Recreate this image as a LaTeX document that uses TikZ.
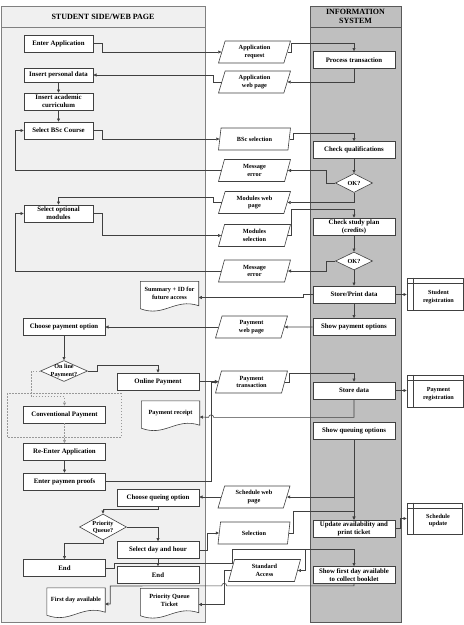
\documentclass[tikz,border=0pt]{standalone}
\usepackage{fontspec}
\setmainfont{Liberation Serif}
\usetikzlibrary{positioning, arrows.meta, shapes.geometric, calc, backgrounds}

\begin{document}
\begin{tikzpicture}[x=1pt, y=-1pt]
	\tikzset{
		lane/.style={line width=0.6pt},
		proc/.style={rectangle, draw=black!75, fill=white, line width=0.6pt, minimum width=69, minimum height=17, inner sep=1pt, align=center, font=\bfseries\fontsize{6.8}{8}\selectfont},
		wproc/.style={proc, minimum width=82},
		io/.style={trapezium, trapezium left angle=65, trapezium right angle=115, trapezium stretches body, draw=black!75, fill=white, line width=0.6pt, minimum width=72, minimum height=22, inner sep=0.5pt, align=center, font=\bfseries\fontsize{6.3}{7.5}\selectfont},
		decide/.style={diamond, draw=black!75, fill=white, line width=0.6pt, inner sep=0pt},
		dtext/.style={align=center, font=\bfseries\fontsize{6.2}{7.3}\selectfont},
		doc/.style={rectangle, minimum width=58, minimum height=24, inner sep=1pt, align=center, font=\bfseries\fontsize{6.3}{7.5}\selectfont},
		store/.style={rectangle, draw=black!75, fill=white, line width=0.6pt, minimum width=56, minimum height=32, inner sep=0pt},
		wire/.style={draw=black!75, line width=0.6pt},
		conn/.style={wire, -{Triangle[length=3.2pt, width=3pt]}},
		alt/.style={conn, draw=black!40, dash pattern=on 1.5pt off 1.5pt},
		head/.style={align=center, font=\bfseries\fontsize{8}{9.3}\selectfont}
	}
	\useasboundingbox (0,0) rectangle (464,625);
	\begin{scope}[on background layer]
		\draw[lane, draw=black!50, fill=black!6] (1,6) rectangle (205,622);
		\draw[lane, draw=black!50] (1,27) -- (205,27);
		\draw[lane, draw=black!65, fill=black!25] (310,6) rectangle (401,622);
		\draw[lane, draw=black!65] (310,27) -- (401,27);
		\draw[black!40, line width=0.5pt, dash pattern=on 1.5pt off 1.5pt] (7,393) rectangle (121,437);
	\end{scope}
	\node[head] (shead) at (103,16.5) {STUDENT SIDE/WEB PAGE};
	\node[head] (ihead) at (355.5,16.5) {INFORMATION\\SYSTEM};

	\node[proc] (ea) at (58.5,43.5) {Enter Application};
	\node[proc, minimum height=14] (ipd) at (58.5,75) {Insert personal data};
	\node[proc] (iac) at (58.5,101.5) {Insert academic\\curriculum};
	\node[proc] (sbc) at (58.5,130.5) {Select BSc Course};
	\node[proc] (som) at (58.5,213.5) {Select optional\\modules};
	\node[wproc] (cpo) at (64,326.5) {Choose payment option};
	\node[wproc] (conv) at (64.5,414.5) {Conventional Payment};
	\node[wproc] (rea) at (64.5,452) {Re-Enter Application};
	\node[wproc] (epp) at (64.5,481.5) {Enter paymen proofs};
	\node[wproc] (endl) at (64.5,568) {End};
	\node[wproc] (olp) at (158,381.5) {Online Payment};
	\node[wproc] (cqo) at (158,497.5) {Choose queing option};
	\node[wproc] (sdh) at (158,550) {Select day and hour};
	\node[wproc] (endr) at (158,575) {End};

	\node[wproc] (pt) at (354,60) {Process transaction};
	\node[wproc] (cq) at (354,150) {Check qualifications};
	\node[wproc] (csp) at (354,226.5) {Check study plan\\(credits)};
	\node[wproc] (spd) at (354,294.5) {Store/Print data};
	\node[wproc] (spo) at (354,327) {Show payment options};
	\node[wproc] (sd) at (354,390.5) {Store data};
	\node[wproc] (sqo) at (354,431) {Show queuing options};
	\node[wproc] (uat) at (354,528.5) {Update availability and\\print ticket};
	\node[wproc] (sfd) at (354,575) {Show first day available\\to collect booklet};

	\node[decide, minimum width=37, minimum height=19, label={[name=ok1t, dtext]center:OK?}] (ok1) at (354,183) {};
	\node[decide, minimum width=37, minimum height=18, label={[name=ok2t, dtext]center:OK?}] (ok2) at (354,261) {};
	\node[decide, minimum width=47, minimum height=21, label={[name=olqt, dtext]center:On line\\Payment?}] (olq) at (64,371) {};
	\node[decide, minimum width=47, minimum height=26, label={[name=pqt_t, dtext]center:Priority\\Queue?}] (pq) at (103,527) {};

	\node[io] (areq) at (254.5,52) {Application\\request};
	\node[io] (aweb) at (254.5,82) {Application\\web page};
	\node[io] (bsel) at (254.5,139) {BSc selection};
	\node[io] (merr1) at (254.5,170.5) {Message\\error};
	\node[io] (mweb) at (254.5,202.5) {Modules web\\page};
	\node[io] (msel) at (254.5,235.5) {Modules\\selection};
	\node[io] (merr2) at (254.5,271) {Message\\error};
	\node[io] (pweb) at (251.5,327) {Payment\\web page};
	\node[io] (ptr) at (251.5,382) {Payment\\transaction};
	\node[io] (sweb) at (254,497) {Schedule web\\page};
	\node[io] (sel) at (254,533) {Selection};
	\node[io] (sacc) at (264.5,570.5) {Standard\\Access};

	\node[doc] (sum) at (169.5,293.5) {Summary + ID for\\future access};
	\node[doc] (prc) at (170.5,413) {Payment receipt};
	\node[doc] (fda) at (76,600) {First day available};
	\node[doc] (pqt) at (169.5,600.5) {Priority Queue\\Ticket};
	\begin{scope}[on background layer]
		\foreach \d in {sum,prc,fda,pqt}
			\draw[wire, fill=white] ($(\d.south west)+(0,3)$) -- (\d.north west) -- (\d.north east) -- (\d.south east) .. controls +(-24,-8) and +(24,9) .. ($(\d.south west)+(0,3)$) -- cycle;
	\end{scope}

	\node[store, label={[name=stut, dtext, xshift=3.5pt, yshift=-3pt]center:Student\\registration}] (stu) at (435,294) {};
	\node[store, label={[name=payt, dtext, xshift=3.5pt, yshift=-3pt]center:Payment\\registration}] (pay) at (435,391) {};
	\node[store, minimum width=55, minimum height=31, label={[name=scht, dtext, xshift=3.5pt, yshift=-2pt]center:Schedule\\update}] (sch) at (434.5,518.5) {};
	\foreach \s in {stu,pay,sch} {
		\draw[wire] ($(\s.north west)+(0,6)$) -- ($(\s.north east)+(0,6)$);
		\draw[wire] ($(\s.north west)+(7,0)$) -- ($(\s.south west)+(7,0)$);
	}

	\coordinate (lx) at (15,0);
	\draw[conn] (ea.east) -- ++(9,0) |- (areq.west);
	\draw[conn] (areq.east) -- ++(4,0) |- ($(pt.north)+(0,-8)$) -- (pt.north);
	\draw[conn] (pt.south) |- (aweb.east);
	\draw[conn] (aweb.west) -- ++(-8,0) |- (ipd.east);
	\draw[conn] (ipd.south) -- (iac.north);
	\draw[conn] (iac.south) -- (sbc.north);
	\draw[conn] (sbc.east) -- ++(9,0) |- (bsel.west);
	\draw[conn] (bsel.east) -- ++(4,0) |- ($(cq.north)+(0,-8)$) -- (cq.north);
	\draw[conn] (cq.south) -- (ok1.north);
	\draw[conn] (ok1.west) -- ++(-9,0) |- (merr1.east);
	\draw[conn] (merr1.west) -- (merr1.west -| lx) |- (sbc.west);
	\draw[conn] (ok1.south) |- (mweb.east);
	\draw[conn] (mweb.west) -- ++(-8,0) |- ($(som.north)+(0,-7)$) -- (som.north);
	\draw[conn] (som.east) -- ++(9,0) |- (msel.west);
	\draw[conn] (msel.east) -- ++(4,0) |- ($(csp.north)+(0,-8)$) -- (csp.north);
	\draw[conn] (csp.south) -- (ok2.north);
	\draw[conn] (ok2.west) -- ++(-9,0) |- (merr2.east);
	\draw[conn] (merr2.west) -- (merr2.west -| lx) |- (som.west);
	\draw[conn] (ok2.south) -- (spd.north);
	\draw[conn] (spd.west) -- ++(-9,0) |- ($(sum.east)+(0,4)$);
	\draw[conn] (spd.east) -- (spd.east -| stu.west);
	\draw[conn] (spd.south) -- (spo.north);
	\draw[conn] (spo.west) -- (pweb.east);
	\draw[conn] (pweb.west) -- (pweb.west -| cpo.east);
	\draw[conn] (cpo.south) -- (olq.north);
	\draw[conn] (olq.east) -- ++(9,0) |- ($(olp.north)+(0,-7)$) -- (olp.north);
	\draw[alt] (olq.west) -- ++(-9,0) |- ($(conv.north)+(0,-9)$) -- (conv.north);
	\draw[alt] (conv.south) -- (rea.north);
	\draw[conn] (rea.south) -- (epp.north);
	\draw[conn] (olp.east) -- (olp.east -| ptr.west);
	\coordinate (jx) at ($(ptr.west)+(-7,0)$);
	\draw[conn] (epp.east) -| (jx) -- (ptr.west);
	\draw[conn] (ptr.east) -- ++(4,0) |- ($(sd.north)+(0,-8)$) -- (sd.north);
	\draw[conn] (sd.south) -- ++(0,18) -- ($(jx |- sd.south)+(2.5,18)$) arc[start angle=0, end angle=-180, radius=2.5] -- ($(prc.east)+(0,4)$);
	\draw[conn] (sd.east) -- (sd.east -| pay.west);
	\draw[conn] (sqo.south) -- (uat.north);
	\draw[conn] (sqo.south) |- (sweb.east);
	\draw[conn] (sweb.west) -- (sweb.west -| cqo.east);
	\draw[conn] (cqo.south) -- ++(0,3) -| (pq.north);
	\draw[conn] (pq.east) -| (sdh.north);
	\draw[conn] (pq.south) -- ++(0,3) -| (endl.north);
	\draw[conn] (sdh.east) -- ++(8,0) |- (sel.west);
	\draw[conn] (sel.east) -- ++(4,0) |- ($(uat.north)+(0,-8)$) -- (uat.north);
	\draw[conn] (sdh.south) -- (endr.north);
	\draw[conn] (uat.east) -- ++(5,0) |- (sch.west);
	\coordinate (ja) at (232,549);
	\coordinate (jb) at (305,549);
	\draw[conn] (endl.east) -- ++(8,0) |- ($(ja)+(0,14)$) -- (ja) -- (jb) |- (sacc.east);
	\draw[conn] (jb) -| (sfd.north);
	\coordinate (kx) at ($(sacc.west)+(-7,0)$);
	\draw[conn] (sfd.south) -- ++(0,2) -- ($(kx |- sfd.south)+(2.5,2)$) arc[start angle=0, end angle=-180, radius=2.5] -- ($(fda.east)+(5,-14)$) -- ($(fda.east)+(5,4)$) -- ($(fda.east)+(0,4)$);
	\draw[conn] (sacc.west) -- (kx) |- ($(pqt.east)+(0,4)$);
\end{tikzpicture}
\end{document}
